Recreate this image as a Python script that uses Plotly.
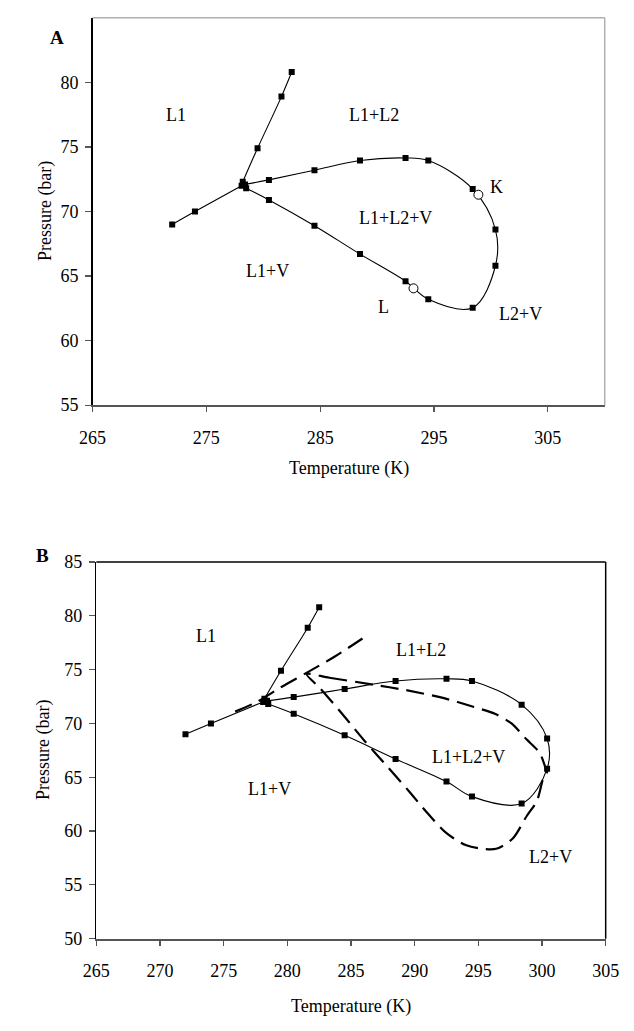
import plotly.graph_objects as go

# ---------------- data (shared solid phase boundaries) ----------------
t_l1v = [272.0, 274.0, 278.1]
p_l1v = [69.0, 70.0, 72.0]

t_l1l2 = [278.2, 279.5, 281.6, 282.5]
p_l1l2 = [72.3, 74.9, 78.9, 80.8]

t_loop = [278.4, 280.5, 284.5, 288.5, 292.5, 294.5, 298.4, 300.4, 300.4,
          298.4, 294.5, 292.5, 288.5, 284.5, 280.5, 278.5]
p_loop = [72.1, 72.45, 73.2, 73.95, 74.15, 73.95, 71.75, 68.6, 65.8,
          62.55, 63.2, 64.6, 66.7, 68.9, 70.9, 71.8]

# critical end points (panel A)
t_crit = [298.9, 293.2]
p_crit = [71.3, 64.05]

# dashed (panel B)
t_dash1 = [275.9, 277.6, 279.4, 281.5, 283.7, 285.9]
p_dash1 = [71.1, 72.0, 73.3, 74.7, 76.2, 77.9]

t_dash2 = [281.5, 283.3, 286.8, 289.3, 292.3, 294.6, 296.3, 297.6, 298.8, 299.8,
           300.3, 300.4, 300.1, 299.6, 298.8, 297.7, 296.4, 295.0, 294.0, 292.55,
           291.05, 289.55, 287.55, 286.05, 284.3, 282.55, 281.5]
p_dash2 = [74.6, 74.25, 73.6, 73.1, 72.35, 71.55, 70.9, 70.0, 68.5, 67.3,
           65.8, 65.5, 64.9, 62.8, 61.4, 59.3, 58.35, 58.4, 58.7, 59.75,
           61.6, 63.7, 66.4, 68.4, 70.9, 73.3, 74.6]

ticks_a_x = [265, 275, 285, 295, 305]
ticks_a_y = [55, 60, 65, 70, 75, 80]
ticks_b_x = [265, 270, 275, 280, 285, 290, 295, 300, 305]
ticks_b_y = [50, 55, 60, 65, 70, 75, 80, 85]

labels_a = [("L1", 272.3, 77.5), ("L1+L2", 289.7, 77.5), ("L1+L2+V", 291.6, 69.5),
            ("K", 300.5, 71.9), ("L", 290.6, 62.6), ("L2+V", 302.6, 62.1),
            ("L1+V", 280.4, 65.4)]
labels_b = [("L1", 273.6, 78.1), ("L1+L2", 290.5, 76.8), ("L1+L2+V", 294.2, 66.9),
            ("L1+V", 278.6, 63.9), ("L2+V", 300.7, 57.6)]

FONT = "Liberation Serif, Times New Roman, serif"

fig = go.Figure()

def solid(xs, ys, xa, ya):
    fig.add_trace(go.Scatter(
        x=xs, y=ys, xaxis=xa, yaxis=ya, mode="lines+markers",
        line=dict(color="black", width=1.1, shape="spline", smoothing=1.0),
        marker=dict(symbol="square", size=6, color="black"),
        showlegend=False, hoverinfo="skip"))

for xa, ya in (("x", "y"), ("x2", "y2")):
    solid(t_l1v, p_l1v, xa, ya)
    solid(t_l1l2, p_l1l2, xa, ya)
    solid(t_loop, p_loop, xa, ya)

fig.add_trace(go.Scatter(
    x=t_crit, y=p_crit, xaxis="x", yaxis="y", mode="markers",
    marker=dict(symbol="circle", size=9, color="white",
                line=dict(color="black", width=1)),
    showlegend=False, hoverinfo="skip"))

for xs, ys in ((t_dash1, p_dash1), (t_dash2, p_dash2)):
    fig.add_trace(go.Scatter(
        x=xs, y=ys, xaxis="x2", yaxis="y2", mode="lines",
        line=dict(color="black", width=2.2, dash="18px,8px",
                  shape="spline", smoothing=0.8),
        showlegend=False, hoverinfo="skip"))

annotations = []
for txt, tx, py in labels_a:
    annotations.append(dict(text=txt, x=tx, y=py, xref="x", yref="y",
                            showarrow=False, font=dict(family=FONT, size=18, color="black")))
for txt, tx, py in labels_b:
    annotations.append(dict(text=txt, x=tx, y=py, xref="x2", yref="y2",
                            showarrow=False, font=dict(family=FONT, size=18, color="black")))

# panel letters
annotations.append(dict(text="<b>A</b>", x=35 / 634, y=1 - 15 / 1031, xref="paper", yref="paper",
                        showarrow=False, font=dict(family=FONT, size=19, color="black")))
annotations.append(dict(text="<b>B</b>", x=21 / 634, y=1 - 556 / 1031, xref="paper", yref="paper",
                        showarrow=False, font=dict(family=FONT, size=19, color="black")))
# axis titles
for txt, x, y, ang in (("Pressure (bar)", 33 / 634, 1 - 205.5 / 1031, -90),
                       ("Temperature (K)", 350 / 634, 1 - 468 / 1031, 0),
                       ("Pressure (bar)", 31 / 634, 1 - 755 / 1031, -90),
                       ("Temperature (K)", 352 / 634, 1 - 1016.5 / 1031, 0)):
    annotations.append(dict(text=txt, x=x, y=y, xref="paper", yref="paper", textangle=ang,
                            showarrow=False, xanchor="center", yanchor="middle",
                            font=dict(family=FONT, size=18, color="black")))

shapes = [
    dict(type="line", xref="x domain", yref="y domain", x0=0, x1=1, y0=1, y1=1,
         line=dict(color="#b0b0b0", width=1.5)),
    dict(type="line", xref="x domain", yref="y domain", x0=1, x1=1, y0=0, y1=1,
         line=dict(color="#b0b0b0", width=1.5)),
    dict(type="line", xref="x2 domain", yref="y2 domain", x0=0, x1=1, y0=1, y1=1,
         line=dict(color="black", width=1.5)),
    dict(type="line", xref="x2 domain", yref="y2 domain", x0=1, x1=1, y0=0, y1=1,
         line=dict(color="black", width=1.5)),
]

tickfont = dict(family=FONT, size=18, color="black")
xcommon = dict(showgrid=False, zeroline=False, showline=True, linecolor="#555555", linewidth=2,
               ticks="outside", ticklen=5, tickcolor="#555555", tickwidth=1.2,
               tickfont=tickfont, ticklabelstandoff=10)
ycommon = dict(showgrid=False, zeroline=False, showline=True, linecolor="black", linewidth=1.5,
               ticks="outside", ticklen=6, tickcolor="#555555", tickwidth=1.2,
               tickfont=tickfont, ticklabelstandoff=3)

fig.update_layout(
    width=634, height=1031,
    margin=dict(l=0, r=0, t=0, b=0),
    paper_bgcolor="white", plot_bgcolor="white",
    showlegend=False,
    xaxis=dict(domain=[82 / 634, 617 / 634], range=[265, 310], tickvals=ticks_a_x,
               anchor="y", **xcommon),
    yaxis=dict(domain=[1 - 403 / 1031, 1 - 8 / 1031], range=[55, 85], tickvals=ticks_a_y,
               anchor="x", **ycommon),
    xaxis2=dict(domain=[86 / 634, 618 / 634], range=[265, 305], tickvals=ticks_b_x,
                anchor="y2", **xcommon),
    yaxis2=dict(domain=[1 - 947 / 1031, 1 - 563 / 1031], range=[50, 85], tickvals=ticks_b_y,
                anchor="x2", **ycommon),
    annotations=annotations,
    shapes=shapes,
)

fig.write_html("out.html", config={"displayModeBar": False, "staticPlot": True},
               post_script="document.body.style.margin='0';document.body.style.overflow='hidden';")
